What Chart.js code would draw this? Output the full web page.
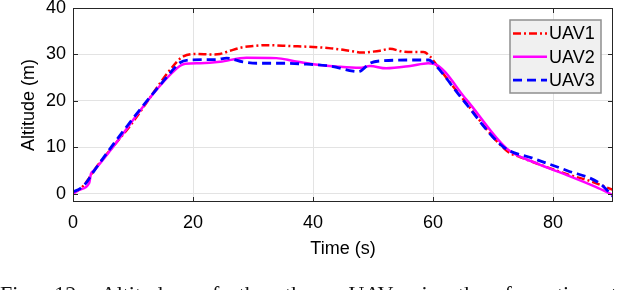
<!DOCTYPE html>
<html>
<head>
<meta charset="utf-8">
<script src="https://cdn.jsdelivr.net/npm/chart.js@4/dist/chart.umd.min.js"></script>
<style>
  html, body { margin: 0; padding: 0; background: #fff; overflow: hidden; }
  #wrap { position: relative; width: 626px; height: 290px; }
  #caption {
    position: absolute; left: 0; top: 281px; white-space: nowrap;
    font-family: "Liberation Serif", "DejaVu Serif", serif; font-size: 22px;
    word-spacing: 14px; color: #111;
  }
</style>
</head>
<body>
<div id="wrap">
  <canvas id="myChart" width="626" height="290"></canvas>
  <div id="caption">Fig. 12: Altitudes of the three UAVs in the formation task.</div>
</div>
<script>
// UAV1 (red, dash-dot)
const tUAV1 = [0, 1.2, 2.5, 3.5, 9.5, 17.3, 18.4, 20.6, 23, 24.5, 26.2, 28.1, 30, 32.3, 36.2, 40, 43, 45, 47, 48, 50, 51.2, 52.8, 55, 57, 58.4, 59.5, 60.2, 65, 72.5, 74.5, 77.3, 82.8, 86, 90];
const hUAV1 = [0.2, 1.0, 3.0, 5.0, 14.6, 28.4, 29.6, 30.1, 30.0, 30.1, 30.8, 31.5, 31.8, 32.0, 31.8, 31.6, 31.3, 31.0, 30.6, 30.4, 30.6, 30.8, 31.2, 30.6, 30.5, 30.5, 29.6, 28.4, 20.4, 9.0, 7.9, 6.5, 4.0, 2.8, 0.8];

// UAV2 (magenta, solid)
const tUAV2 = [0, 1, 2.7, 3.0, 3.5, 17.3, 18.7, 21.2, 24.5, 28.9, 33.9, 36.7, 40, 43.9, 47.8, 49.5, 52.2, 56.2, 59.2, 60.1, 65.6, 72.3, 77.3, 82.3, 87.2, 90];
const hUAV2 = [-0.1, 0.8, 2.3, 4.3, 5.0, 27.0, 28.0, 28.1, 28.4, 29.3, 29.2, 28.6, 27.9, 27.4, 27.1, 27.5, 27.0, 27.5, 28.1, 28.0, 20.2, 9.7, 6.5, 4.0, 1.4, -0.3];

// UAV3 (blue, dashed)
const tUAV3 = [0, 1.2, 2.3, 3.4, 16.4, 17.8, 19.5, 23.9, 25.6, 28.3, 30.6, 34.5, 38.9, 42.8, 46.7, 47.6, 49.5, 51.2, 57.8, 59.3, 60.3, 65, 71.7, 76.7, 82.3, 87.8, 90];
const hUAV3 = [0.4, 1.1, 2.5, 4.7, 26.3, 28.2, 28.8, 28.9, 29.2, 28.4, 28.1, 28.1, 27.9, 27.5, 26.4, 26.3, 28.1, 28.6, 28.8, 28.8, 27.8, 20.2, 10.1, 7.6, 5.0, 2.2, -0.6];

const xTicks = [0, 20, 40, 60, 80];
const yTicks = [0, 10, 20, 30, 40];

const pts = (t, h) => t.map((v, i) => ({ x: v, y: h[i] }));

const FONT = '"Liberation Sans", Arial, sans-serif';

// MATLAB-ish box with inward ticks
const framePlugin = {
    id: 'frame',
    afterDatasetsDraw(chart) {
        const { ctx, chartArea: a, scales } = chart;
        ctx.save();
        ctx.strokeStyle = '#262626';
        ctx.lineWidth = 1;
        ctx.strokeRect(a.left + 0.5, a.top + 0.5, a.right - a.left - 1, a.bottom - a.top - 1);
        ctx.beginPath();
        xTicks.forEach(v => {
            const px = Math.round(scales.x.getPixelForValue(v)) + 0.5;
            ctx.moveTo(px, a.bottom); ctx.lineTo(px, a.bottom - 5);
            ctx.moveTo(px, a.top); ctx.lineTo(px, a.top + 5);
        });
        yTicks.forEach(v => {
            const py = Math.round(scales.y.getPixelForValue(v)) + 0.5;
            ctx.moveTo(a.left, py); ctx.lineTo(a.left + 5, py);
            ctx.moveTo(a.right, py); ctx.lineTo(a.right - 5, py);
        });
        ctx.stroke();
        ctx.restore();
    }
};

// legend in the upper right corner, inside the axes
const legendPlugin = {
    id: 'boxLegend',
    afterDraw(chart) {
        const { ctx, chartArea: a } = chart;
        const x0 = a.right - 103, y0 = a.top + 12, w = 91, h = 73;
        ctx.save();
        ctx.fillStyle = '#f0f0f0';
        ctx.fillRect(x0, y0, w, h);
        ctx.strokeStyle = '#8f8f8f';
        ctx.lineWidth = 1.5;
        ctx.strokeRect(x0, y0, w, h);
        ctx.font = '18px ' + FONT;
        ctx.textBaseline = 'middle';
        chart.data.datasets.forEach((ds, i) => {
            const y = y0 + 13.5 + i * 23.3;
            ctx.beginPath();
            ctx.strokeStyle = ds.borderColor;
            ctx.lineWidth = ds.borderWidth;
            ctx.setLineDash(ds.borderDash || []);
            ctx.moveTo(x0 + 3, y); ctx.lineTo(x0 + 37, y);
            ctx.stroke();
            ctx.setLineDash([]);
            ctx.fillStyle = '#000';
            ctx.fillText(ds.label, x0 + 39, y + 1);
        });
        ctx.restore();
    }
};

const keepTicks = list => scale => {
    scale.ticks = list.map(v => ({ value: v }));
};

const data = {
    datasets: [
    {
        label: 'UAV1',
        borderColor: '#ff0000',
        borderWidth: 2.5,
        borderDash: [8, 3, 2, 3],
        data: pts(tUAV1, hUAV1),
        order: 2,
    },
    {
        label: 'UAV2',
        borderColor: '#ff00ff',
        borderWidth: 2.5,
        data: pts(tUAV2, hUAV2),
        order: 1,
    },
    {
        label: 'UAV3',
        borderColor: '#0000ff',
        borderWidth: 2.8,
        borderDash: [9, 5],
        data: pts(tUAV3, hUAV3),
        order: 0,
    }]
};

const config = {
    type: 'line',
    data: data,
    plugins: [framePlugin, legendPlugin],
    options: {
        responsive: false,
        animation: false,
        events: [],
        elements: {
            point: { radius: 0 },
            line: { cubicInterpolationMode: 'monotone', fill: false }
        },
        layout: { padding: { left: 18, right: 13, top: 0, bottom: 30 } },
        plugins: { legend: { display: false }, tooltip: { enabled: false } },
        scales: {
            x: {
                type: 'linear', min: 0, max: 90,
                afterBuildTicks: keepTicks(xTicks),
                afterFit: s => { s.height = 58; },
                grid: { color: '#e3e3e3', drawTicks: false },
                border: { display: false },
                ticks: { color: '#000', font: { family: FONT, size: 18 }, padding: 10, maxRotation: 0 },
                title: { display: true, text: 'Time (s)', color: '#000', font: { family: FONT, size: 18 }, padding: { top: 0, bottom: 0 } }
            },
            y: {
                type: 'linear', min: -1.8, max: 40,
                afterBuildTicks: keepTicks(yTicks),
                afterFit: s => { s.width = 55; s.paddingTop = 8; },
                grid: { color: '#e3e3e3', drawTicks: false },
                border: { display: false },
                ticks: { color: '#000', font: { family: FONT, size: 18 }, padding: 7 },
                title: { display: true, text: 'Altitude (m)', color: '#000', font: { family: FONT, size: 18 }, padding: { top: 0, bottom: 0 } }
            }
        }
    }
};

const myChart = new Chart(document.getElementById('myChart'), config);
</script>
</body>
</html>
